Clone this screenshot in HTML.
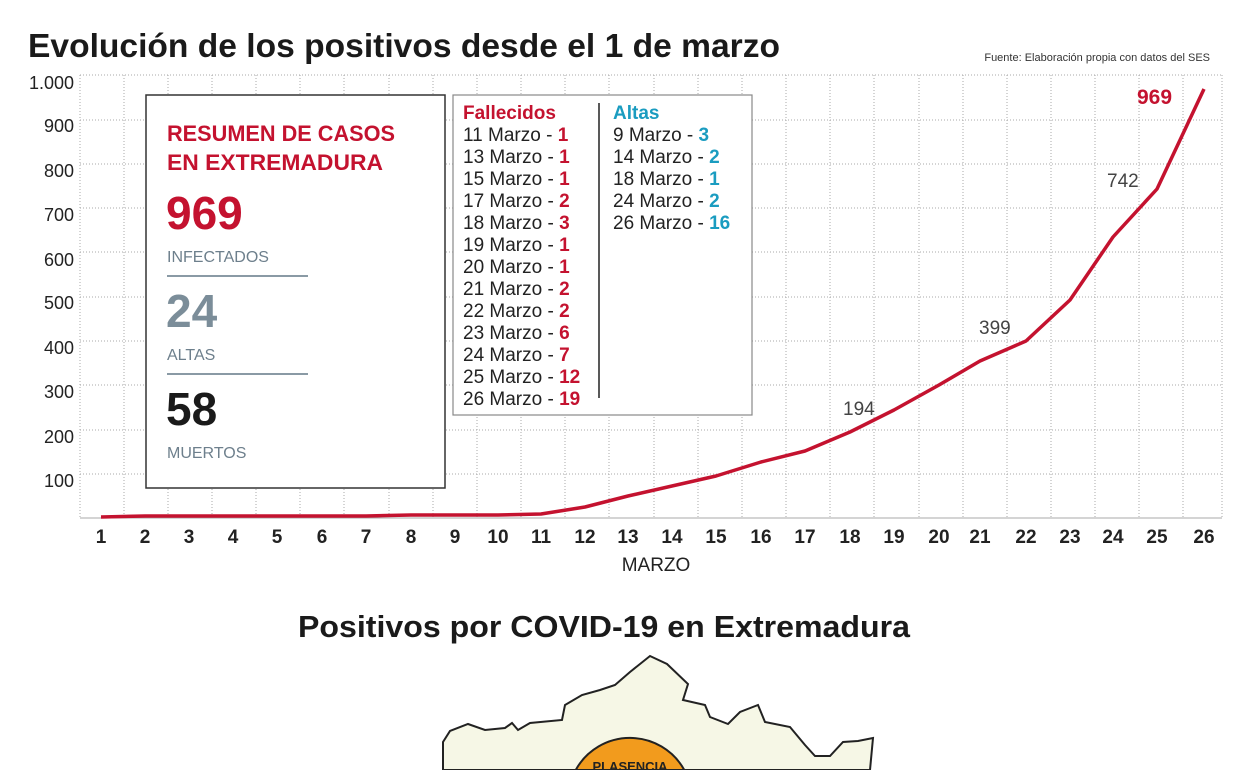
<!DOCTYPE html>
<html><head><meta charset="utf-8"><style>
html,body{margin:0;padding:0;background:#fff;width:1248px;height:770px;overflow:hidden;font-family:"Liberation Sans",sans-serif;}
svg{display:block;}
</style></head><body>
<svg width="1248" height="770" xmlns="http://www.w3.org/2000/svg" font-family="Liberation Sans, sans-serif">
<text x="28" y="57" font-size="33" font-weight="bold" fill="#1a1a1a" textLength="752" lengthAdjust="spacingAndGlyphs">Evolución de los positivos desde el 1 de marzo</text>
<text x="1210" y="61" font-size="11" fill="#333" text-anchor="end">Fuente: Elaboración propia con datos del SES</text>
<g stroke="#aaa" stroke-width="1" stroke-dasharray="1,2">
<line x1="80" y1="75" x2="1222" y2="75"/><line x1="80" y1="120" x2="1222" y2="120"/><line x1="80" y1="164" x2="1222" y2="164"/><line x1="80" y1="208" x2="1222" y2="208"/><line x1="80" y1="252" x2="1222" y2="252"/><line x1="80" y1="297" x2="1222" y2="297"/><line x1="80" y1="341" x2="1222" y2="341"/><line x1="80" y1="385" x2="1222" y2="385"/><line x1="80" y1="430" x2="1222" y2="430"/><line x1="80" y1="474" x2="1222" y2="474"/>
<line x1="80" y1="75" x2="80" y2="518"/>
<line x1="124" y1="75" x2="124" y2="518"/><line x1="168" y1="75" x2="168" y2="518"/><line x1="212" y1="75" x2="212" y2="518"/><line x1="256" y1="75" x2="256" y2="518"/><line x1="300" y1="75" x2="300" y2="518"/><line x1="344" y1="75" x2="344" y2="518"/><line x1="389" y1="75" x2="389" y2="518"/><line x1="433" y1="75" x2="433" y2="518"/><line x1="477" y1="75" x2="477" y2="518"/><line x1="521" y1="75" x2="521" y2="518"/><line x1="565" y1="75" x2="565" y2="518"/><line x1="609" y1="75" x2="609" y2="518"/><line x1="654" y1="75" x2="654" y2="518"/><line x1="698" y1="75" x2="698" y2="518"/><line x1="742" y1="75" x2="742" y2="518"/><line x1="786" y1="75" x2="786" y2="518"/><line x1="830" y1="75" x2="830" y2="518"/><line x1="874" y1="75" x2="874" y2="518"/><line x1="919" y1="75" x2="919" y2="518"/><line x1="963" y1="75" x2="963" y2="518"/><line x1="1007" y1="75" x2="1007" y2="518"/><line x1="1051" y1="75" x2="1051" y2="518"/><line x1="1095" y1="75" x2="1095" y2="518"/><line x1="1139" y1="75" x2="1139" y2="518"/><line x1="1183" y1="75" x2="1183" y2="518"/><line x1="1222" y1="75" x2="1222" y2="518"/>
</g>
<line x1="80" y1="518" x2="1222" y2="518" stroke="#aaa"/>
<g font-size="18" fill="#222" text-anchor="end">
<text x="74" y="89">1.000</text><text x="74" y="132">900</text><text x="74" y="177">800</text><text x="74" y="221">700</text><text x="74" y="266">600</text><text x="74" y="309">500</text><text x="74" y="354">400</text><text x="74" y="398">300</text><text x="74" y="443">200</text><text x="74" y="487">100</text>
</g>
<g font-size="19" font-weight="bold" fill="#222" text-anchor="middle">
<text x="101" y="543">1</text><text x="145" y="543">2</text><text x="189" y="543">3</text><text x="233" y="543">4</text><text x="277" y="543">5</text><text x="322" y="543">6</text><text x="366" y="543">7</text><text x="411" y="543">8</text><text x="455" y="543">9</text><text x="498" y="543">10</text><text x="541" y="543">11</text><text x="585" y="543">12</text><text x="628" y="543">13</text><text x="672" y="543">14</text><text x="716" y="543">15</text><text x="761" y="543">16</text><text x="805" y="543">17</text><text x="850" y="543">18</text><text x="894" y="543">19</text><text x="939" y="543">20</text><text x="980" y="543">21</text><text x="1026" y="543">22</text><text x="1070" y="543">23</text><text x="1113" y="543">24</text><text x="1157" y="543">25</text><text x="1204" y="543">26</text>
</g>
<text x="656" y="571" font-size="19" fill="#222" text-anchor="middle">MARZO</text>
<polyline fill="none" stroke="#c4122f" stroke-width="3.5" stroke-linejoin="round" points="101,517 145,516 189,516 233,516 277,516 322,516 366,516 411,515 455,515 498,515 541,514 585,507 628,496 672,486 716,476 761,462 805,451 850,432 894,410 939,385 980,361 1026,341 1070,300 1113,237 1157,189 1204,89"/>
<text x="843" y="415" font-size="19" fill="#444">194</text>
<text x="979" y="334" font-size="19" fill="#444">399</text>
<text x="1107" y="187" font-size="19" fill="#444">742</text>
<text x="1137" y="104" font-size="21" font-weight="bold" fill="#c4122f">969</text>
<rect x="146" y="95" width="299" height="393" fill="#fff" stroke="#333" stroke-width="1.5"/>
<text x="167" y="141" font-size="22" font-weight="bold" fill="#c4122f" textLength="228" lengthAdjust="spacingAndGlyphs">RESUMEN DE CASOS</text>
<text x="167" y="170" font-size="22" font-weight="bold" fill="#c4122f" textLength="216" lengthAdjust="spacingAndGlyphs">EN EXTREMADURA</text>
<text x="166" y="229" font-size="46" font-weight="bold" fill="#c4122f">969</text>
<text x="167" y="262" font-size="16" fill="#6d7f8c">INFECTADOS</text>
<line x1="167" y1="276" x2="308" y2="276" stroke="#8a9aa5" stroke-width="2"/>
<text x="166" y="327" font-size="46" font-weight="bold" fill="#7b8d99">24</text>
<text x="167" y="360" font-size="16" fill="#6d7f8c">ALTAS</text>
<line x1="167" y1="374" x2="308" y2="374" stroke="#8a9aa5" stroke-width="2"/>
<text x="166" y="425" font-size="46" font-weight="bold" fill="#1a1a1a">58</text>
<text x="167" y="458" font-size="16" fill="#6d7f8c">MUERTOS</text>
<rect x="453" y="95" width="299" height="320" fill="#fff" stroke="#888" stroke-width="1.2"/>
<line x1="599" y1="103" x2="599" y2="398" stroke="#222" stroke-width="1.5"/>
<text x="463" y="119" font-size="19" font-weight="bold" fill="#c4122f">Fallecidos</text>
<text x="613" y="119" font-size="19" font-weight="bold" fill="#1a9cc0">Altas</text>
<g font-size="19" fill="#222">
<text x="463" y="141">11 Marzo - <tspan fill="#c4122f" font-weight="bold">1</tspan></text>
<text x="463" y="163">13 Marzo - <tspan fill="#c4122f" font-weight="bold">1</tspan></text>
<text x="463" y="185">15 Marzo - <tspan fill="#c4122f" font-weight="bold">1</tspan></text>
<text x="463" y="207">17 Marzo - <tspan fill="#c4122f" font-weight="bold">2</tspan></text>
<text x="463" y="229">18 Marzo - <tspan fill="#c4122f" font-weight="bold">3</tspan></text>
<text x="463" y="251">19 Marzo - <tspan fill="#c4122f" font-weight="bold">1</tspan></text>
<text x="463" y="273">20 Marzo - <tspan fill="#c4122f" font-weight="bold">1</tspan></text>
<text x="463" y="295">21 Marzo - <tspan fill="#c4122f" font-weight="bold">2</tspan></text>
<text x="463" y="317">22 Marzo - <tspan fill="#c4122f" font-weight="bold">2</tspan></text>
<text x="463" y="339">23 Marzo - <tspan fill="#c4122f" font-weight="bold">6</tspan></text>
<text x="463" y="361">24 Marzo - <tspan fill="#c4122f" font-weight="bold">7</tspan></text>
<text x="463" y="383">25 Marzo - <tspan fill="#c4122f" font-weight="bold">12</tspan></text>
<text x="463" y="405">26 Marzo - <tspan fill="#c4122f" font-weight="bold">19</tspan></text>
<text x="613" y="141">9 Marzo - <tspan fill="#1a9cc0" font-weight="bold">3</tspan></text>
<text x="613" y="163">14 Marzo - <tspan fill="#1a9cc0" font-weight="bold">2</tspan></text>
<text x="613" y="185">18 Marzo - <tspan fill="#1a9cc0" font-weight="bold">1</tspan></text>
<text x="613" y="207">24 Marzo - <tspan fill="#1a9cc0" font-weight="bold">2</tspan></text>
<text x="613" y="229">26 Marzo - <tspan fill="#1a9cc0" font-weight="bold">16</tspan></text>
</g>
<text x="604" y="637" font-size="31" font-weight="bold" fill="#1a1a1a" text-anchor="middle" textLength="612" lengthAdjust="spacingAndGlyphs">Positivos por COVID-19 en Extremadura</text>
<polygon fill="#f6f7e6" stroke="#222" stroke-width="2" points="443,770 443,742 450,731 468,724 485,730 505,728 512,723 518,730 530,723 562,720 565,705 582,695 600,690 615,685 630,672 650,656 667,664 688,684 683,700 705,705 710,717 728,724 740,712 758,705 765,722 790,727 805,745 815,756 830,756 843,742 858,741 873,738 870,770"/>
<path d="M575.7,770 A62,62 0 0 1 684.3,770 Z" fill="#f29b1d" stroke="#222" stroke-width="2"/>
<text x="630" y="771" font-size="13" font-weight="bold" fill="#222" text-anchor="middle">PLASENCIA</text>
</svg>
</body></html>
